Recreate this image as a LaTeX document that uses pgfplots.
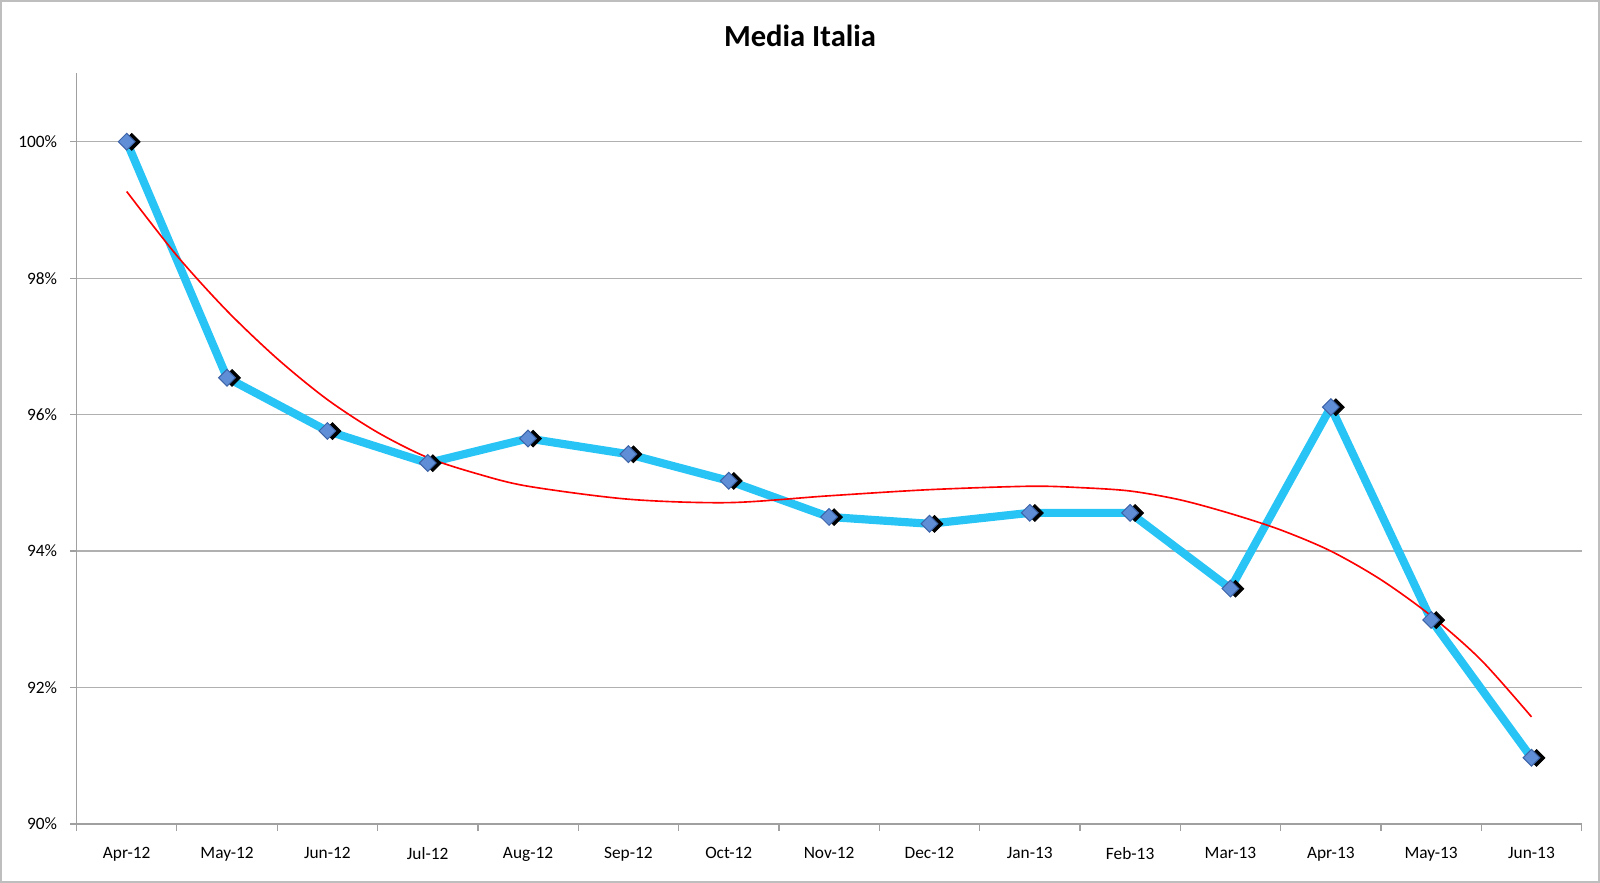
\documentclass[border=0pt]{standalone}
\usepackage{pgfplots}
\pgfplotsset{compat=1.18}
\usepackage{pgfplotstable}
\usepackage{fontspec}
\setmainfont{Carlito}
\definecolor{linecyan}{RGB}{40,196,245}
\definecolor{markblue}{RGB}{96,142,214}
\definecolor{markedge}{RGB}{62,100,168}
\definecolor{gridgray}{RGB}{176,176,176}
\definecolor{axisgray}{RGB}{160,160,160}
\definecolor{bordergray}{RGB}{190,190,190}
\definecolor{trendred}{RGB}{255,0,0}

\pgfplotstableread{
x y
0 100.00
1 96.54
2 95.76
3 95.29
4 95.65
5 95.42
6 95.03
7 94.50
8 94.40
9 94.56
10 94.56
11 93.45
12 96.11
13 92.99
14 90.97
}\datatable

\pgfplotstableread{
x y
0 99.27
0.5 98.33
1 97.52
1.5 96.82
2 96.22
2.5 95.74
3 95.37
3.5 95.13
4 94.95
5 94.76
6 94.71
7 94.81
8 94.90
9 94.95
9.5 94.93
10 94.88
10.5 94.75
11 94.55
11.5 94.31
12 94.00
12.5 93.58
13 93.05
13.5 92.40
14 91.57
}\trendtable

\begin{document}
\begin{tikzpicture}
\useasboundingbox (0,0) rectangle (784bp,432.5bp);
\draw[color=bordergray, line width=0.8bp] (0.4bp,0.4bp) rectangle (783.6bp,432.1bp);
\begin{axis}[
  at={(37.5bp,28.75bp)}, anchor=south west,
  scale only axis, width=737.5bp, height=367.75bp,
  xmin=-0.5, xmax=14.5, ymin=90, ymax=101,
  axis lines*=left,
  axis line style={color=axisgray, line width=0.6bp},
  ytick={90,92,94,96,98,100},
  yticklabels={90\%,92\%,94\%,96\%,98\%,100\%},
  xtick={0,1,2,3,4,5,6,7,8,9,10,11,12,13,14},
  xticklabels={Apr-12,May-12,Jun-12,Jul-12,Aug-12,Sep-12,Oct-12,Nov-12,Dec-12,Jan-13,Feb-13,Mar-13,Apr-13,May-13,Jun-13},
  minor xtick={-0.5,0.5,1.5,2.5,3.5,4.5,5.5,6.5,7.5,8.5,9.5,10.5,11.5,12.5,13.5,14.5},
  major x tick style={draw=none},
  minor x tick style={color=axisgray, line width=0.6bp},
  major y tick style={color=axisgray, line width=0.6bp},
  tick align=outside,
  major tick length=3bp, minor tick length=3.5bp,
  ymajorgrids,
  major grid style={color=gridgray, line width=0.6bp},
  tick label style={font=\fontsize{8.5bp}{10bp}\selectfont, text=black},
  xticklabel style={yshift=-5bp},
  yticklabel style={xshift=-3bp},
  clip=false,
]
\addplot[color=linecyan, line width=4bp, line join=round, no marks] table[x=x,y=y] {\datatable};
\addplot[only marks, mark=square*, mark size=2.9bp,
  mark options={rotate=45, fill=black, draw=black, xshift=1.7bp, yshift=-1.8bp}] table[x=x,y=y] {\datatable};
\addplot[only marks, mark=square*, mark size=2.9bp,
  mark options={rotate=45, fill=markblue, draw=markedge, line width=0.5bp}] table[x=x,y=y] {\datatable};
\addplot[color=trendred, line width=0.8bp, smooth, no marks] table[x=x,y=y] {\trendtable};
\end{axis}
\node[font=\bfseries\fontsize{15bp}{18bp}\selectfont] at (392bp,415bp) {Media Italia};
\end{tikzpicture}
\end{document}
